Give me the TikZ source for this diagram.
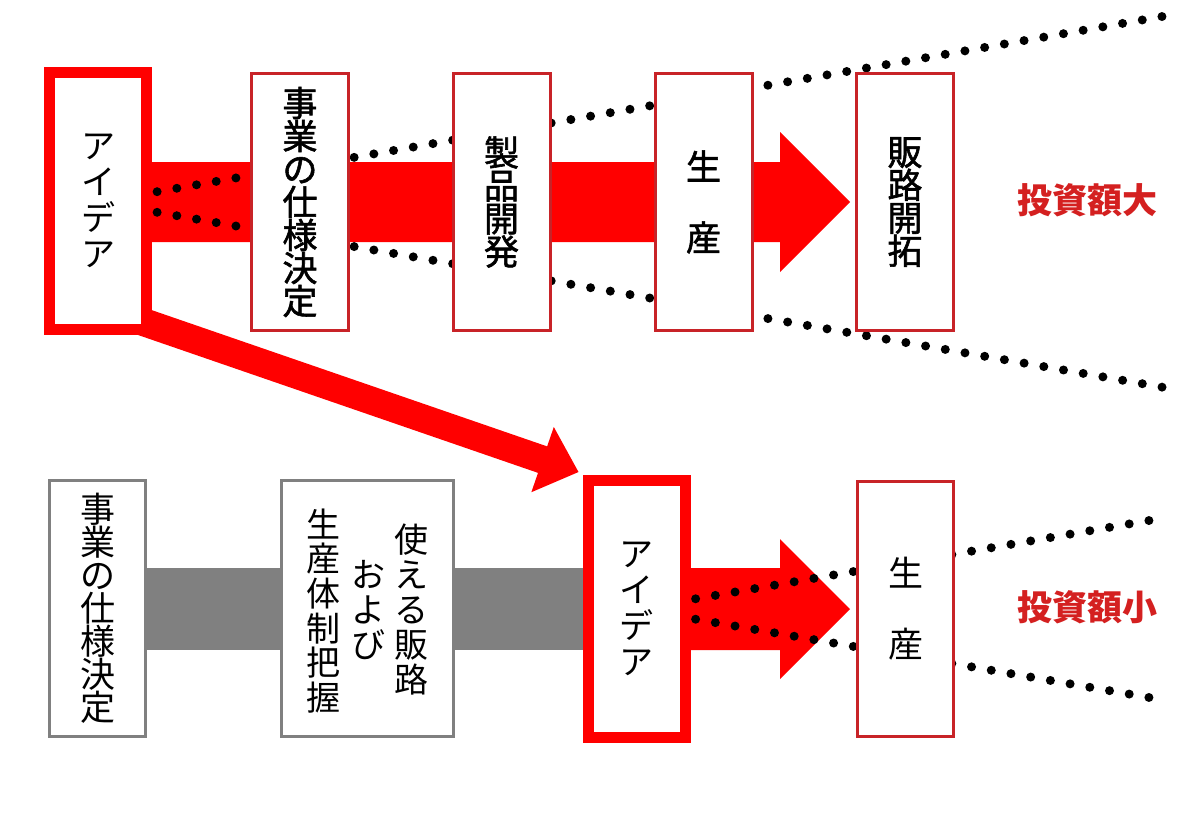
\documentclass[tikz,border=0pt]{standalone}
\usepackage{fontspec}
\setmainfont{Noto Sans CJK JP}
\newfontface\medjp{Noto Sans CJK JP}[FakeBold=1.6]
\usetikzlibrary{calc}
\definecolor{bred}{RGB}{255,0,0}
\definecolor{thinred}{RGB}{200,35,40}
\definecolor{tred}{RGB}{212,32,32}
\definecolor{bandgray}{RGB}{128,128,128}
\pgfdeclarelayer{bg}
\pgfsetlayers{bg,main}
\begin{document}
\begin{tikzpicture}[x=1pt,y=-1pt,
 thickbox/.style={draw=bred, line width=11pt, fill=white, minimum width=97pt, minimum height=257pt, inner sep=0pt, align=center},
 thinbox/.style={draw=thinred, line width=3pt, fill=white, minimum width=97pt, minimum height=257pt, inner sep=0pt, align=center},
 graybox/.style={draw=bandgray, line width=3pt, fill=white, minimum height=256pt, inner sep=0pt, align=center},
 vtext/.style={align=center, inner sep=0pt},
 fr/.style={font=\fontsize{35}{33}\selectfont},
 fb/.style={font=\fontsize{35}{33}\selectfont\medjp},
 fk/.style={font=\fontsize{34}{36}\selectfont},
 dotline/.style={line width=9pt, line cap=round, dash pattern=on 0pt off 20pt},
 invlabel/.style={text=tred, font=\fontsize{35}{35}\selectfont\bfseries, inner sep=0pt}
]
\useasboundingbox (0,0) rectangle (1200,815);

% ---- top row boxes
\node[thickbox, fk] (idea1) at (98,201) {ア\\イ\\デ\\ア};
\node[thinbox, fb] (spec1) at (300,202) {事\\業\\の\\仕\\様\\決\\定};
\node[thinbox, fb] (dev) at (501.5,202) {製\\品\\開\\発};
\node[thinbox, fb] (prod1) at (703.5,202) {生\\[38pt]産};
\node[thinbox, fb] (sales) at (905,202) {販\\路\\開\\拓};
\node[invlabel] (big) at (1087,200) {投資額大};

% ---- bottom row boxes
\node[graybox, fr, minimum width=96pt] (spec2) at (97.5,608.5) {事\\業\\の\\仕\\様\\決\\定};
\node[graybox, minimum width=172pt] (grasp) at (367.5,608.5) {};
\node[vtext, font=\fontsize{34}{35}\selectfont] (g1) at (411,609.5) {使\\え\\る\\販\\路};
\node[vtext, font=\fontsize{34}{35}\selectfont] (g2) at (368,610) {お\\よ\\び};
\node[vtext, font=\fontsize{34}{34.7}\selectfont] (g3) at (323,611) {生\\産\\体\\制\\把\\握};
\node[thickbox, fk] (idea2) at (636.5,609) {ア\\イ\\デ\\ア};
\node[thinbox, fr, minimum width=96pt, minimum height=255pt] (prod2) at (905.5,609) {生\\[38pt]産};
\node[invlabel] (small) at (1087,607) {投資額小};

\begin{pgfonlayer}{bg}
\fill[white] (0,0) rectangle (1200,815);
% top red band arrow
\coordinate (tip1) at (850,202);
\coordinate (s1) at (tip1 -| idea1.center);
\fill[bred] ($(s1)+(0,-40)$) -- ($(tip1)+(-70,-40)$) -- ($(tip1)+(-70,-70)$) -- (tip1)
  -- ($(tip1)+(-70,70)$) -- ($(tip1)+(-70,40)$) -- ($(s1)+(0,40)$) -- cycle;
% diagonal arrow
\coordinate (dT) at ($(idea2.north west)+(-4,-3)$);
\coordinate (dS) at ($(idea1.south east)+(-46.7,-26.1)$);
\coordinate (dB) at ($(dT)!38pt!(dS)$);
\fill[bred] ($(dS)!14pt!90:(dT)$) -- ($(dB)!14pt!90:(dT)$) -- ($(dB)!34.5pt!90:(dT)$) -- (dT)
  -- ($(dB)!34.5pt!-90:(dT)$) -- ($(dB)!14pt!-90:(dT)$) -- ($(dS)!14pt!-90:(dT)$) -- cycle;
% gray band
\fill[bandgray] ($(spec2.center)+(0,-40.5)$) rectangle ($(idea2.center)+(0,40.5)$);
% bottom red arrow
\coordinate (tip2) at (850,609);
\coordinate (s2) at (tip2 -| idea2.center);
\fill[bred] ($(s2)+(0,-41)$) -- ($(tip2)+(-70,-41)$) -- ($(tip2)+(-70,-70)$) -- (tip2)
  -- ($(tip2)+(-70,70)$) -- ($(tip2)+(-70,41)$) -- ($(s2)+(0,41)$) -- cycle;
% dotted divergence lines
\coordinate (e1) at (1165,16);
\coordinate (e2) at (1167,388);
\coordinate (e3) at (1152,520);
\coordinate (e4) at (1152,698);
\draw[dotline] (s1) -- (e1);
\draw[dotline] (s1) -- (e2);
\draw[dotline] (s2) -- (e3);
\draw[dotline] (s2) -- (e4);
\end{pgfonlayer}
\end{tikzpicture}
\end{document}
